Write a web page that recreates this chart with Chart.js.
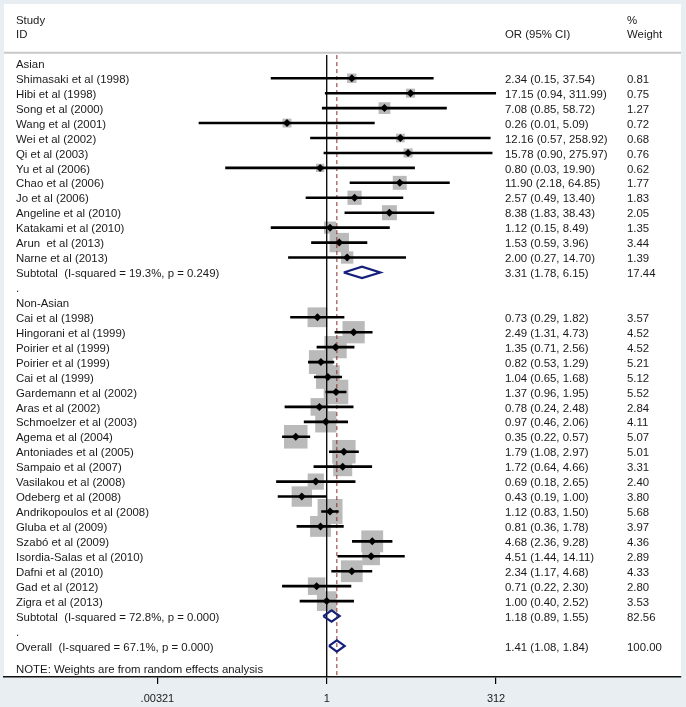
<!DOCTYPE html>
<html>
<head>
<meta charset="utf-8">
<script src="https://cdn.jsdelivr.net/npm/chart.js@4.4.1/dist/chart.umd.min.js"></script>
<style>
html,body{margin:0;padding:0;background:#e8eef1;}
canvas{display:block;}
</style>
</head>
<body>
<canvas id="c" width="686" height="707"></canvas>
<script>
// ---- Data ----
const asianStudies = ["Shimasaki et al (1998)","Hibi et al (1998)","Song et al (2000)","Wang et al (2001)","Wei et al (2002)","Qi et al (2003)","Yu et al (2006)","Chao et al (2006)","Jo et al (2006)","Angeline et al (2010)","Katakami et al (2010)","Arun  et al (2013)","Narne et al (2013)"];
const asianOR     = [2.34, 17.15, 7.08, 0.26, 12.16, 15.78, 0.80, 11.90, 2.57, 8.38, 1.12, 1.53, 2.00];
const asianLower  = [0.15, 0.94, 0.85, 0.013, 0.57, 0.90, 0.032, 2.18, 0.49, 1.83, 0.15, 0.59, 0.27];
const asianUpper  = [37.54, 311.99, 58.72, 5.09, 258.92, 275.97, 19.90, 64.85, 13.40, 38.43, 8.49, 3.96, 14.70];
const asianWeight = [0.81, 0.75, 1.27, 0.72, 0.68, 0.76, 0.62, 1.77, 1.83, 2.05, 1.35, 3.44, 1.39];

const nonAsianStudies = ["Cai et al (1998)","Hingorani et al (1999)","Poirier et al (1999)","Poirier et al (1999)","Cai et al (1999)","Gardemann et al (2002)","Aras et al (2002)","Schmoelzer et al (2003)","Agema et al (2004)","Antoniades et al (2005)","Sampaio et al (2007)","Vasilakou et al (2008)","Odeberg et al (2008)","Andrikopoulos et al (2008)","Gluba et al (2009)","Szabó et al (2009)","Isordia-Salas et al (2010)","Dafni et al (2010)","Gad et al (2012)","Zigra et al (2013)"];
const nonAsianOR     = [0.73, 2.49, 1.35, 0.82, 1.04, 1.37, 0.78, 0.97, 0.35, 1.79, 1.72, 0.69, 0.43, 1.12, 0.81, 4.68, 4.51, 2.34, 0.71, 1.00];
const nonAsianLower  = [0.29, 1.31, 0.71, 0.53, 0.65, 0.96, 0.24, 0.46, 0.22, 1.08, 0.64, 0.18, 0.19, 0.83, 0.36, 2.36, 1.44, 1.17, 0.22, 0.40];
const nonAsianUpper  = [1.82, 4.73, 2.56, 1.29, 1.68, 1.95, 2.48, 2.06, 0.57, 2.97, 4.66, 2.65, 1.00, 1.50, 1.78, 9.28, 14.11, 4.68, 2.30, 2.52];
const nonAsianWeight = [3.57, 4.52, 4.52, 5.21, 5.12, 5.52, 2.84, 4.11, 5.07, 5.01, 3.31, 2.40, 3.80, 5.68, 3.97, 4.36, 2.89, 4.33, 2.80, 3.53];

const groupNames = ["Asian", "Non-Asian"];
const subtotalLabels = ["Subtotal  (I-squared = 19.3%, p = 0.249)", "Subtotal  (I-squared = 72.8%, p = 0.000)"];
const subtotalOR     = [3.31, 1.18];
const subtotalLower  = [1.78, 0.89];
const subtotalUpper  = [6.15, 1.55];
const subtotalWeight = [17.44, 82.56];

const overallLabel  = "Overall  (I-squared = 67.1%, p = 0.000)";
const overallOR     = 1.41;
const overallLower  = 1.08;
const overallUpper  = 1.84;
const overallWeight = 100.00;

const noteText = "NOTE: Weights are from random effects analysis";
const xTickValues = [0.00321, 1, 312];
const xTickLabels = [".00321", "1", "312"];

// ---- Build rows ----
const groups = [
  {name: groupNames[0], s: asianStudies, or: asianOR, lo: asianLower, hi: asianUpper, w: asianWeight},
  {name: groupNames[1], s: nonAsianStudies, or: nonAsianOR, lo: nonAsianLower, hi: nonAsianUpper, w: nonAsianWeight}
];
const rows = [];
groups.forEach((g, gi) => {
  rows.push({kind: 'group', label: g.name});
  g.s.forEach((name, i) => rows.push({kind: 'study', label: name, or: g.or[i], lo: g.lo[i], hi: g.hi[i], w: g.w[i]}));
  rows.push({kind: 'sub', label: subtotalLabels[gi], or: subtotalOR[gi], lo: subtotalLower[gi], hi: subtotalUpper[gi], w: subtotalWeight[gi]});
  rows.push({kind: 'dot', label: '.'});
});
rows.push({kind: 'sub', label: overallLabel, or: overallOR, lo: overallLower, hi: overallUpper, w: overallWeight});
rows.forEach((r, i) => r.row = i);

const studyRows = rows.filter(r => r.kind === 'study');
const summaryRows = rows.filter(r => r.kind === 'sub');

const Y_MIN = -3.97, Y_MAX = 41.08;
const LINE_TOP = -0.55;
const boxK = 7.4; // radius factor per sqrt(weight)

// CI segments with gaps
const ciData = [];
studyRows.forEach(r => {
  ciData.push({x: r.lo, y: r.row});
  ciData.push({x: r.hi, y: r.row});
  ciData.push({x: r.hi, y: null});
});

const datasets = [
  {
    label: 'boxes', type: 'line', showLine: false, order: 5,
    data: studyRows.map(r => ({x: r.or, y: r.row})),
    pointStyle: 'rect',
    pointRadius: studyRows.map(r => boxK * Math.sqrt(r.w)),
    pointBackgroundColor: '#bababa', pointBorderWidth: 0, pointBorderColor: 'rgba(0,0,0,0)'
  },
  {
    label: 'null', type: 'line', order: 4,
    data: [{x: 1, y: LINE_TOP}, {x: 1, y: Y_MAX}],
    borderColor: '#000', borderWidth: 1.3, pointRadius: 0
  },
  {
    label: 'overallLine', type: 'line', order: 4,
    data: [{x: overallOR, y: LINE_TOP}, {x: overallOR, y: Y_MAX}],
    borderColor: '#8b2a2a', borderWidth: 1, borderDash: [4, 3], pointRadius: 0
  },
  {
    label: 'ci', type: 'line', order: 3, spanGaps: false,
    data: ciData, borderColor: '#000', borderWidth: 2.6, pointRadius: 0
  },
  {
    label: 'points', type: 'line', showLine: false, order: 1,
    data: studyRows.map(r => ({x: r.or, y: r.row})),
    pointStyle: 'rectRot', pointRadius: 4,
    pointBackgroundColor: '#000', pointBorderWidth: 0
  }
];
summaryRows.forEach(r => {
  const h = 0.38;
  datasets.push({
    label: 'diamond', type: 'line', order: 1,
    data: [{x: r.lo, y: r.row}, {x: r.or, y: r.row - h}, {x: r.hi, y: r.row}, {x: r.or, y: r.row + h}, {x: r.lo, y: r.row}],
    borderColor: '#16207a', borderWidth: 2.2, pointRadius: 0, fill: false, tension: 0
  });
});

const FONT = '11.4px "Liberation Sans", Arial, sans-serif';
const TEXT = '#1a1a1a';
const TEXT_DY = 1.5;

const bgPlugin = {
  id: 'bg',
  beforeDraw(chart) {
    const {ctx, chartArea: a} = chart;
    ctx.save();
    ctx.fillStyle = '#e8eef1';
    ctx.fillRect(0, 0, chart.width, chart.height);
    ctx.fillStyle = '#ffffff';
    ctx.fillRect(a.left, a.top, a.right - a.left, a.bottom - a.top);
    const ys = chart.scales.y;
    const yy = ys.getPixelForValue(-0.71);
    ctx.strokeStyle = '#c8c8c8';
    ctx.lineWidth = 2;
    ctx.beginPath();
    ctx.moveTo(a.left, yy);
    ctx.lineTo(a.right, yy);
    ctx.stroke();
    ctx.restore();
  }
};

const textPlugin = {
  id: 'texts',
  afterDatasetsDraw(chart) {
    const {ctx} = chart;
    const ys = chart.scales.y;
    const xLabel = 16, xOR = 505, xW = 627;
    ctx.save();
    ctx.font = FONT;
    ctx.fillStyle = TEXT;
    ctx.textBaseline = 'middle';
    ctx.textAlign = 'left';
    const Y = v => ys.getPixelForValue(v) + TEXT_DY;
    ctx.fillText('Study', xLabel, Y(-2.945));
    ctx.fillText('ID', xLabel, Y(-2.008));
    ctx.fillText('OR (95% CI)', xOR, Y(-2.008));
    ctx.fillText('%', xW, Y(-2.945));
    ctx.fillText('Weight', xW, Y(-2.008));
    rows.forEach(r => {
      const y = Y(r.row);
      ctx.fillText(r.label, xLabel, y);
      if (r.kind === 'study' || r.kind === 'sub') {
        ctx.fillText(r.or.toFixed(2) + ' (' + r.lo.toFixed(2) + ', ' + r.hi.toFixed(2) + ')', xOR, y);
        ctx.fillText(r.w.toFixed(2), xW, y);
      }
    });
    ctx.fillText(noteText, xLabel, Y(40.47));
    ctx.restore();
  }
};

new Chart(document.getElementById('c'), {
  type: 'line',
  data: {datasets},
  options: {
    responsive: false,
    devicePixelRatio: 1,
    animation: false,
    events: [],
    layout: {autoPadding: false, padding: {left: 4, right: 5, top: 4, bottom: 0}},
    plugins: {legend: {display: false}, tooltip: {enabled: false}},
    scales: {
      x: {
        type: 'logarithmic',
        position: 'bottom',
        min: 1.766e-5,
        max: 1.652e5,
        grid: {drawOnChartArea: false, drawTicks: true, tickLength: 7, color: '#000', lineWidth: 1.2},
        border: {display: true, color: '#111', width: 1.5},
        ticks: {
          autoSkip: false, maxRotation: 0, padding: 8,
          font: {family: '"Liberation Sans", Arial, sans-serif', size: 11},
          color: TEXT,
          callback: (v) => { const i = xTickValues.indexOf(v); return i >= 0 ? xTickLabels[i] : ''; }
        },
        afterBuildTicks: (s) => { s.ticks = xTickValues.map(v => ({value: v})); },
        afterFit: (s) => { s.height = 30; }
      },
      y: {
        type: 'linear', reverse: true, min: Y_MIN, max: Y_MAX, display: false
      }
    }
  },
  plugins: [bgPlugin, textPlugin]
});
</script>
</body>
</html>
